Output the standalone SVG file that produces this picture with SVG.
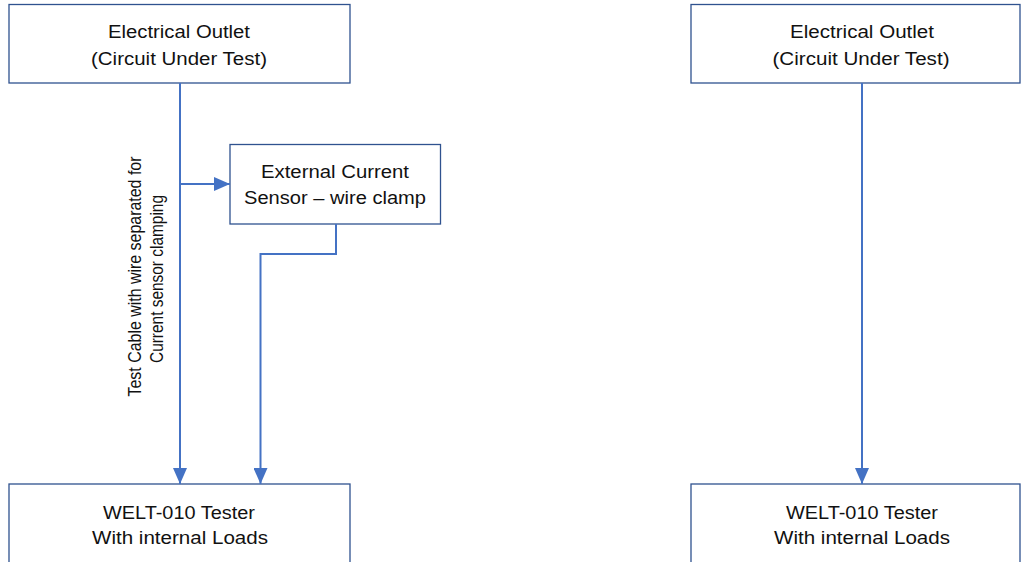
<svg xmlns="http://www.w3.org/2000/svg" width="1021" height="562" viewBox="0 0 1021 562">
<style>
.box{fill:#fff;stroke:#2F528F;stroke-width:1.3}
.t{font-family:"Liberation Sans",Arial,sans-serif;font-size:17.5px;fill:#111;text-anchor:middle}
.c{fill:none;stroke:#4472C4;stroke-width:2}
</style>
<defs>
<marker id="ah" markerWidth="16" markerHeight="14" refX="16" refY="7" orient="auto" markerUnits="userSpaceOnUse" viewBox="0 0 16 14">
<path d="M0,0 L16,7 L0,14 Z" fill="#4472C4"/>
</marker>
</defs>
<rect width="1021" height="562" fill="#fff"/>
<g id="outlet-left">
<rect class="box" x="9" y="4.5" width="341" height="78.5"/>
<text class="t" x="179" y="38" textLength="142" lengthAdjust="spacingAndGlyphs">Electrical Outlet</text>
<text class="t" x="179" y="65" textLength="176" lengthAdjust="spacingAndGlyphs">(Circuit Under Test)</text>
</g>
<g id="outlet-right">
<rect class="box" x="691" y="4.5" width="329" height="78.5"/>
<text class="t" x="862" y="38" textLength="144" lengthAdjust="spacingAndGlyphs">Electrical Outlet</text>
<text class="t" x="861" y="65" textLength="177" lengthAdjust="spacingAndGlyphs">(Circuit Under Test)</text>
</g>
<g id="sensor">
<rect class="box" x="230" y="144.5" width="210.5" height="79.5"/>
<text class="t" x="335" y="178" textLength="148" lengthAdjust="spacingAndGlyphs">External Current</text>
<text class="t" x="335" y="204" textLength="182" lengthAdjust="spacingAndGlyphs">Sensor – wire clamp</text>
</g>
<g id="tester-left">
<rect class="box" x="9" y="484" width="341" height="90"/>
<text class="t" x="179" y="519" textLength="152" lengthAdjust="spacingAndGlyphs">WELT-010 Tester</text>
<text class="t" x="180" y="544" textLength="176" lengthAdjust="spacingAndGlyphs">With internal Loads</text>
</g>
<g id="tester-right">
<rect class="box" x="691" y="484" width="329" height="90"/>
<text class="t" x="862" y="519" textLength="152" lengthAdjust="spacingAndGlyphs">WELT-010 Tester</text>
<text class="t" x="862" y="544" textLength="176" lengthAdjust="spacingAndGlyphs">With internal Loads</text>
</g>
<g id="connectors">
<line class="c" x1="180" y1="83" x2="180" y2="484" marker-end="url(#ah)"/>
<line class="c" x1="180" y1="184" x2="230" y2="184" marker-end="url(#ah)"/>
<polyline class="c" points="336,224 336,254 260.5,254 260.5,484" marker-end="url(#ah)"/>
<line class="c" x1="862" y1="83" x2="862" y2="484" marker-end="url(#ah)"/>
<g id="cable-label">
<text class="t" transform="translate(140.5,276.5) rotate(-90)" textLength="240" lengthAdjust="spacingAndGlyphs" font-size="16.5">Test Cable with wire separated for</text>
<text class="t" transform="translate(163,279) rotate(-90)" textLength="168" lengthAdjust="spacingAndGlyphs" font-size="16.5">Current sensor clamping</text>
</g>
</g>
</svg>
